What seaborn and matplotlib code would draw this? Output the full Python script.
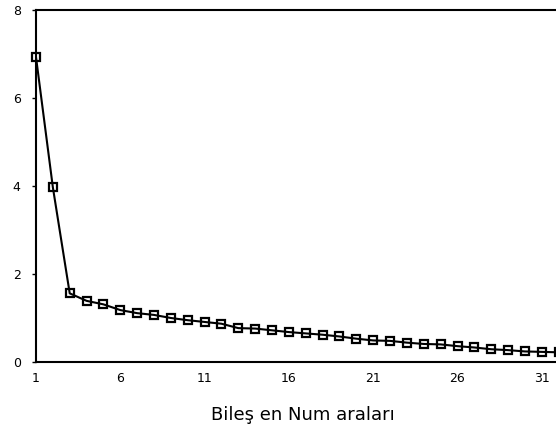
import matplotlib
matplotlib.use('Agg')
import matplotlib.pyplot as plt
import seaborn as sns
import pandas as pd

# Scree plot values
components = list(range(1, 33))
eigenvalues = [6.93, 3.97, 1.56, 1.39, 1.31, 1.18, 1.11, 1.07, 1.00, 0.95,
               0.91, 0.87, 0.77, 0.76, 0.72, 0.68, 0.65, 0.62, 0.58, 0.53,
               0.49, 0.48, 0.44, 0.41, 0.40, 0.36, 0.33, 0.29, 0.27, 0.24,
               0.23, 0.22]
x_ticks = [1, 6, 11, 16, 21, 26, 31]
y_ticks = [0, 2, 4, 6, 8]
x_label = 'Bileş en Num araları'

sns.set_theme(style='ticks')
plt.rcParams['font.family'] = ['DejaVu Sans']

df = pd.DataFrame({'Bilesen': components, 'Deger': eigenvalues})

fig = plt.figure(figsize=(5.56, 4.30), dpi=100)
# axes run past the right edge of the figure, as in the reference
ax = fig.add_axes([36 / 556, 68 / 430, 33 * 16.86 / 556, 352 / 430])
# open squares, the line shows through them like in the original
sns.lineplot(data=df, x='Bilesen', y='Deger', ax=ax, color='black', linewidth=1.5,
             marker='s', markersize=6.3, markerfacecolor='none',
             markeredgecolor='black', markeredgewidth=1.6, clip_on=False)

ax.set_xlim(1, 34)
ax.set_ylim(0, 8)
ax.set_xticks(x_ticks)
ax.set_yticks(y_ticks)
ax.set_xlabel('')
ax.set_ylabel('')
ax.tick_params(axis='x', length=0, pad=7, labelsize=9, colors='black')
ax.tick_params(axis='y', length=3, width=1, pad=8, labelsize=9, colors='black')
for side in ['left', 'bottom', 'top', 'right']:
    ax.spines[side].set_linewidth(1.5)
    ax.spines[side].set_color('black')

fig.text(303 / 556, 1 - 420 / 430, x_label, ha='center', va='baseline',
         fontsize=13, color='black')

fig.savefig('out.png', dpi=100)
